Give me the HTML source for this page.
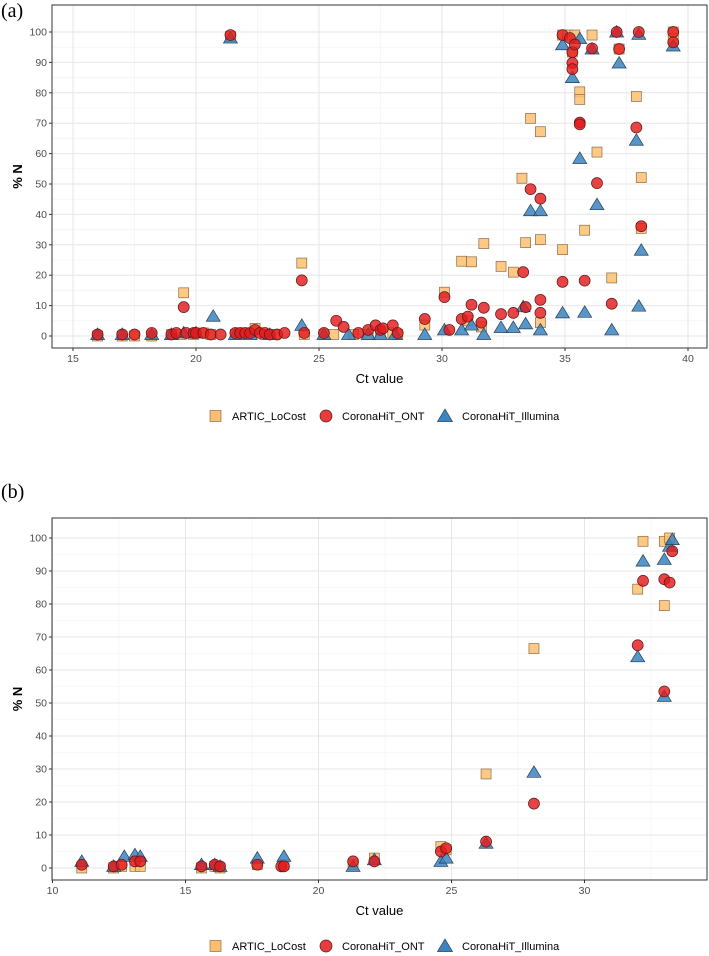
<!DOCTYPE html>
<html><head><meta charset="utf-8">
<style>
body{margin:0;background:#fff;}
svg{display:block;font-family:"Liberation Sans",sans-serif;}
</style></head>
<body>
<svg id="chart" width="709" height="956"></svg>
<script>
// ---------- Panel (a) data ----------
const aSquareX=[16.0,17.0,17.5,18.2,19.0,19.4,19.5,19.9,20.3,20.6,21.4,21.6,22.0,22.4,22.8,23.2,24.3,24.4,25.2,25.6,26.4,27.0,27.5,28.0,28.2,29.3,30.1,30.8,31.05,31.2,31.6,31.7,32.4,32.9,33.25,33.4,33.6,34.0,34.0,34.0,34.9,34.9,35.1,35.3,35.4,35.6,35.6,35.8,36.1,36.3,36.9,37.2,37.9,38.1,38.1,39.4,39.4];
const aSquareY=[0,0,0,0,0.5,0.5,14.2,0.5,1,0.5,98.5,0.5,1,2.5,0.5,0.5,24,0.5,0.5,0.5,0.5,0.5,1,1,0.5,3.6,14.4,24.6,5,24.4,3,30.4,22.9,21,51.9,30.7,71.6,67.2,31.7,4.4,28.4,99,99,93.4,99,80.3,77.8,34.8,99,60.5,19.1,94.4,78.8,52.1,35.4,100,97.8];
const aCircleX=[16.0,17.0,17.5,18.2,19.0,19.2,19.5,19.6,19.9,20.0,20.3,20.6,21.0,21.4,21.6,21.8,22.0,22.2,22.4,22.6,22.8,23.0,23.3,23.6,24.3,24.4,25.2,25.7,26.0,26.6,27.0,27.3,27.5,27.6,28.0,28.2,29.3,30.1,30.3,30.8,31.05,31.2,31.6,31.7,32.4,32.9,33.3,33.4,33.6,34.0,34.0,34.0,34.9,34.9,35.2,35.3,35.3,35.3,35.4,35.6,35.6,35.8,36.1,36.3,36.9,37.1,37.2,37.9,38.0,38.1,39.4,39.4];
const aCircleY=[0.5,0.5,0.5,1,0.5,1,9.5,1,1,1,1,0.5,0.5,99,1,1,1,1,2,1,1,0.5,0.5,1,18.3,1,1,5,3,1,2,3.5,2,2.5,3.5,1,5.6,12.8,2,5.6,6.4,10.3,4.4,9.3,7.2,7.6,21,9.5,48.3,45.2,11.9,7.6,17.8,99,98,93.4,89.8,87.8,95.9,70.2,69.6,18.2,94.6,50.3,10.6,100,94.4,68.6,100,36.1,100,96.6];
const aTriangleX=[16.0,17.0,18.2,19.0,19.5,20.0,20.7,21.4,21.6,22.2,23.0,24.3,25.2,26.2,27.0,27.5,28.1,29.3,30.1,30.8,31.2,31.7,32.4,32.9,33.3,33.4,33.6,34.0,34.0,34.9,34.9,35.3,35.6,35.6,35.8,36.1,36.3,36.9,37.1,37.2,37.9,38.0,38.0,38.1,39.4];
const aTriangleY=[0.5,0.5,0.5,0.5,1,1,6.5,98,0.5,0.5,0.5,3.5,0.5,0.5,0.5,0.5,0.5,0.5,2,2,3.6,0.5,2.8,2.8,9.6,4,41.2,41.2,2,7.6,95.8,85,97.8,58.4,7.8,94.4,43.2,2,100,89.8,64.4,99.2,9.8,28.2,95.4];
// ---------- Panel (b) data ----------
const bSquareX=[11.1,12.3,12.6,13.1,13.3,15.6,16.1,16.3,17.7,18.7,21.3,22.1,24.6,24.8,26.3,28.1,32.0,32.2,33.0,33.0,33.2];
const bSquareY=[0,0,0.5,0.5,0.5,0,0.5,0,1,1,1,3,6.5,5.5,28.5,66.5,84.5,99,99,79.5,100];
const bCircleX=[11.1,12.3,12.6,13.1,13.3,15.6,16.1,16.3,17.7,18.6,18.7,21.3,22.1,24.6,24.8,26.3,28.1,32.0,32.2,33.0,33.0,33.2,33.3];
const bCircleY=[1,0.5,1,2,2,0.5,1,0.5,1,0.5,0.5,2,2,5,6,8,19.5,67.5,87,87.5,53.5,86.5,96];
const bTriangleX=[11.1,12.3,12.7,13.1,13.3,15.6,16.1,16.3,17.7,18.7,21.3,22.1,24.6,24.8,26.3,28.1,32.0,32.2,33.0,33.0,33.2,33.3];
const bTriangleY=[2,0.5,3.5,4,3.5,1,1,0.5,3,3.5,0.5,2.5,2,3,7.5,29,64,93,93.5,52,97.5,99.5];
const aXTicks=[15,20,25,30,35,40];
const bXTicks=[10,15,20,25,30];
const yTicks=[0,10,20,30,40,50,60,70,80,90,100];

const NS="http://www.w3.org/2000/svg";
const svg=document.getElementById('chart');
function mk(tag,attrs,parent){const e=document.createElementNS(NS,tag);for(const k in attrs)e.setAttribute(k,attrs[k]);(parent||svg).appendChild(e);return e;}

function panel(p){
  const g=mk('g',{});
  
  
  const xs=v=>p.x0px+(v-p.x0)*p.xk;
  const ys=v=>p.y0px-v*p.yk;
  const bg=mk('rect',{x:p.L,y:p.T,width:p.R-p.L,height:p.B-p.T,fill:'#fff'},g);
  
  
  for(let v=p.xmin;v<=p.xmax;v+=2.5){const X=xs(v);if(X<p.L||X>p.R)continue;const l=mk('line',{x1:X,x2:X,y1:p.T,y2:p.B,stroke:'#f2f2f2','stroke-width':0.6},g);}
  for(let v=5;v<=100;v+=10){const Y=ys(v);const l=mk('line',{x1:p.L,x2:p.R,y1:Y,y2:Y,stroke:'#f2f2f2','stroke-width':0.6},g);}
  p.xt.forEach(v=>{const X=xs(v);const l=mk('line',{x1:X,x2:X,y1:p.T,y2:p.B,stroke:'#e6e6e6','stroke-width':1},g);
    const tk=mk('line',{x1:X,x2:X,y1:p.B,y2:p.B+3,stroke:'#333'},g);
    const t=mk('text',{x:X,y:p.B+14,'text-anchor':'middle','font-size':10.5,fill:'#4d4d4d'},g);t.textContent=v;});
  yTicks.forEach(v=>{const Y=ys(v);const l=mk('line',{x1:p.L,x2:p.R,y1:Y,y2:Y,stroke:'#e6e6e6','stroke-width':1},g);
    const tk=mk('line',{x1:p.L-3,x2:p.L,y1:Y,y2:Y,stroke:'#333'},g);
    const t=mk('text',{x:p.L-5,y:Y+3.5,'text-anchor':'end','font-size':10.5,fill:'#4d4d4d'},g);t.textContent=v;});
  const sq=(x,y)=>{const e=mk('rect',{x:xs(x)-5,y:ys(y)-5,width:10,height:10,fill:'#fdbf6f','fill-opacity':0.85,stroke:'#8a6d4a','stroke-width':0.7},g);};
  const ci=(x,y)=>{const e=mk('circle',{cx:xs(x),cy:ys(y),r:5.5,fill:'#e31a1c','fill-opacity':0.82,stroke:'#5a1a1a','stroke-width':0.7},g);};
  const tr=(x,y)=>{const X=xs(x),Y=ys(y);const e=mk('polygon',{points:`${X},${Y-6.5} ${X-7},${Y+5} ${X+7},${Y+5}`,fill:'#3b84c0','fill-opacity':0.85,stroke:'#24405a','stroke-width':0.7},g);};
  p.sx.forEach((x,i)=>sq(x,p.sy[i]));
  p.tx.forEach((x,i)=>tr(x,p.ty[i]));
  p.cx.forEach((x,i)=>ci(x,p.cy[i]));
  const bd=mk('rect',{x:p.L,y:p.T,width:p.R-p.L,height:p.B-p.T,fill:'none',stroke:'#333','stroke-width':1},g);
  const xt=mk('text',{x:(p.L+p.R)/2,y:p.B+35,'text-anchor':'middle','font-size':13,fill:'#000'},g);xt.textContent='Ct value';
  const yt=mk('text',{x:0,y:0,'text-anchor':'middle','font-size':13,'font-weight':'bold',transform:`translate(22,${(p.T+p.B)/2}) rotate(-90)`},g);yt.textContent='% N';
  const lb=mk('text',{x:1,y:p.labY,'font-size':20,'font-family':'Liberation Serif, serif'},g);lb.textContent=p.label;
  const ly=p.legY;
  const lg=mk('g',{},g);
  const s=mk('rect',{x:210,y:ly-5.5,width:11,height:11,fill:'#fdbf6f',stroke:'#8a6d4a','stroke-width':0.7},lg);
  const t1=mk('text',{x:232,y:ly+4,'font-size':11},lg);t1.textContent='ARTIC_LoCost';
  const c=mk('circle',{cx:326,cy:ly,r:6,fill:'#e31a1c','fill-opacity':0.85,stroke:'#5a1a1a','stroke-width':0.7},lg);
  const t2=mk('text',{x:342,y:ly+4,'font-size':11},lg);t2.textContent='CoronaHiT_ONT';
  const tt=mk('polygon',{points:`445,${ly-7} 437.5,${ly+5.5} 452.5,${ly+5.5}`,fill:'#3b84c0',stroke:'#24405a','stroke-width':0.7},lg);
  const t3=mk('text',{x:462,y:ly+4,'font-size':11},lg);t3.textContent='CoronaHiT_Illumina';
}
panel({name:'panel-a',label:'(a)',labY:17,L:52,R:707,T:5,B:348,x0:15,x0px:73,xk:24.6,y0px:336,yk:3.04,xmin:15,xmax:40,xt:aXTicks,
  sx:aSquareX,sy:aSquareY,cx:aCircleX,cy:aCircleY,tx:aTriangleX,ty:aTriangleY,legY:416});
panel({name:'panel-b',label:'(b)',labY:498,L:52,R:707,T:518,B:880,x0:10,x0px:52.5,xk:26.6,y0px:868,yk:3.3,xmin:10,xmax:35,xt:bXTicks,
  sx:bSquareX,sy:bSquareY,cx:bCircleX,cy:bCircleY,tx:bTriangleX,ty:bTriangleY,legY:946});
</script>
</body></html>
